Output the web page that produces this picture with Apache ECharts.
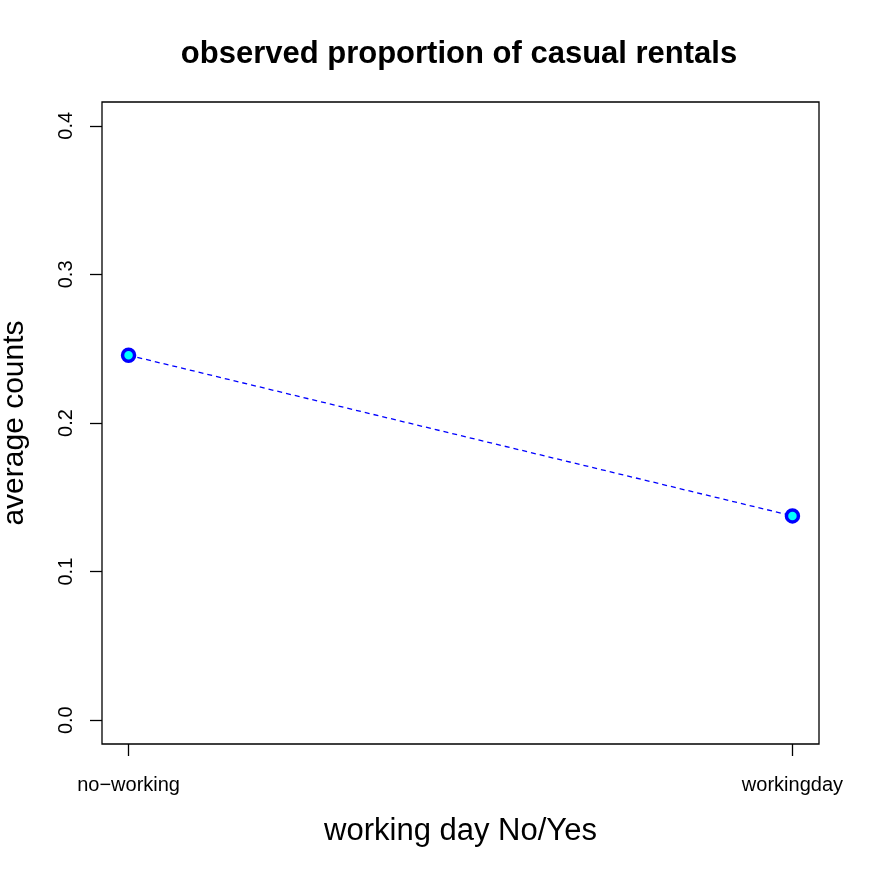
<!DOCTYPE html>
<html>
<head>
<meta charset="utf-8">
<script src="https://cdn.jsdelivr.net/npm/echarts@6/dist/echarts.min.js"></script>
<style>html,body{margin:0;padding:0;background:#fff;}#c{width:872px;height:872px;}</style>
</head>
<body>
<div id="c"></div>
<script>
const categories = ['no\u2212working', 'workingday'];
const xPositions = [1, 2];
const values = [0.2456, 0.1375];
const yTicks = [0, 0.1, 0.2, 0.3, 0.4];

const font = 'Liberation Sans, Arial, Helvetica, sans-serif';
const chart = echarts.init(document.getElementById('c'));
chart.setOption({
  backgroundColor: '#ffffff',
  animation: false,
  title: {
    text: 'observed proportion of casual rentals',
    left: 454, top: 34, textAlign: 'center',
    textStyle: {fontFamily: font, fontWeight: 'bold', fontSize: 31, color: '#000'}
  },
  grid: {left: 102, right: 53, top: 102, bottom: 128, show: true, borderColor: '#000', borderWidth: 1.3,
    containLabel: false, outerBoundsMode: 'none'},
  xAxis: {
    type: 'value', min: 0.96, max: 2.04,
    name: 'working day No/Yes', nameLocation: 'middle', nameGap: 72,
    nameTextStyle: {fontFamily: font, fontSize: 31, color: '#000'},
    axisLine: {show: false, onZero: false},
    splitLine: {show: false},
    axisTick: {show: true, inside: false, length: 12, customValues: xPositions, lineStyle: {color: '#000', width: 1.3}},
    axisLabel: {customValues: xPositions, margin: 31, fontFamily: font, fontSize: 20, color: '#000',
      formatter: v => categories[xPositions.indexOf(Math.round(v))] || ''}
  },
  yAxis: {
    type: 'value', min: -0.016, max: 0.416,
    name: 'average counts', nameLocation: 'middle', nameGap: 72,
    nameTextStyle: {fontFamily: font, fontSize: 30, color: '#000'},
    axisLine: {show: false, onZero: false},
    splitLine: {show: false},
    axisTick: {show: true, inside: false, length: 12, customValues: yTicks, lineStyle: {color: '#000', width: 1.3}},
    axisLabel: {customValues: yTicks, rotate: 90, margin: 26, fontFamily: font, fontSize: 20, color: '#000',
      formatter: v => v.toFixed(1)}
  },
  series: [{
    type: 'line',
    data: xPositions.map((x, i) => [x, values[i]]),
    symbol: 'circle', symbolSize: 12,
    lineStyle: {color: '#0000ff', width: 1.3, type: [5, 4]},
    itemStyle: {color: '#00ffff', borderColor: '#0000ff', borderWidth: 3.5},
    z: 3
  }]
});
</script>
</body>
</html>
